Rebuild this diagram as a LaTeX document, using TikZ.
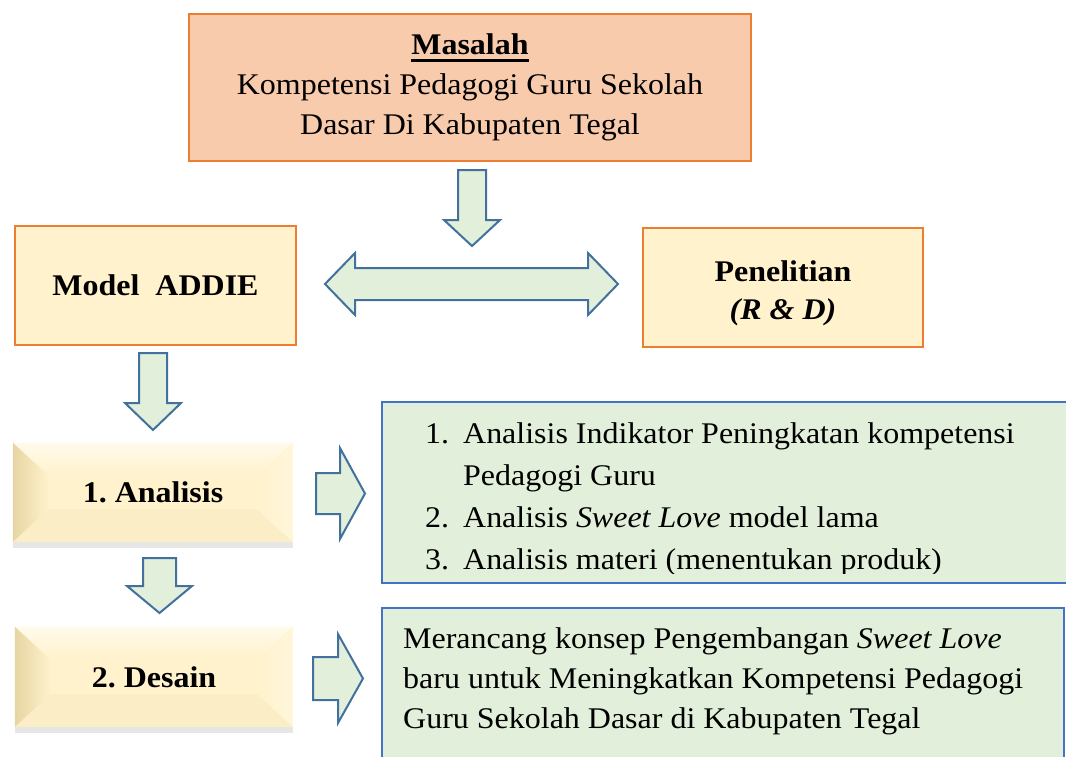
\documentclass[tikz,border=0pt]{standalone}
\usepackage{fontspec}
\setmainfont[FakeStretch=1.066]{Liberation Serif}
\usetikzlibrary{shadows}

\definecolor{peach}{HTML}{F8CBAD}
\definecolor{orangeline}{HTML}{ED7D31}
\definecolor{cream}{HTML}{FFF2CC}
\definecolor{tanleft}{HTML}{E6D5A3}
\definecolor{mint}{HTML}{E2EFDA}
\definecolor{blueline}{HTML}{4472C4}
\definecolor{arrowline}{HTML}{41719C}

\newcommand{\thickul}[1]{\setbox0\hbox{#1}\leavevmode\rlap{\rule[-7pt]{\wd0}{3pt}}\box0}

\tikzset{
	orangebox/.style={draw=orangeline, line width=2.5pt, inner sep=0pt},
	greenbox/.style={draw=blueline, line width=2pt, fill=mint, inner sep=0pt},
	bevelbox/.style={fill=cream, inner sep=0pt, drop shadow={shadow xshift=0pt, shadow yshift=-6pt, opacity=0.2}},
	blockarrow/.style={draw=arrowline, line width=2pt, fill=mint, line join=miter},
	bigtext/.style={font=\fontsize{30}{40}\selectfont},
	boldtext/.style={font=\fontsize{30}{38}\selectfont\bfseries},
}

\begin{document}
\begin{tikzpicture}[x=1pt,y=-1pt]
	\useasboundingbox (0,0) rectangle (1066,756);
	\clip (0,0) rectangle (1066,756);

	% top row
	\node[orangebox, fill=peach, minimum width=562pt, minimum height=147pt, align=center, bigtext] (masalah) at (470,87.5)
		{\textbf{\thickul{Masalah}}\\Kompetensi Pedagogi Guru Sekolah\\Dasar Di Kabupaten Tegal};
	\node[orangebox, fill=cream, minimum width=281pt, minimum height=119pt, boldtext] (addie) at (155.5,285.5)
		{Model\ \ ADDIE};
	\node[orangebox, fill=cream, minimum width=280pt, minimum height=119pt] (penelitian) at (783,287.5) {};
	\node[boldtext, align=center, inner sep=0pt] (penelitiantext) at ([yshift=-6pt]penelitian.center)
		{Penelitian\\\textit{(R \& D)}};

	% ADDIE steps
	\node[bevelbox, minimum width=280pt, minimum height=99pt] (analisis) at (153,492.5) {};
	\node[bevelbox, minimum width=278pt, minimum height=100pt] (desain) at (154,677) {};
	\foreach \b in {analisis,desain}{
		\coordinate (\b-a) at ([shift={(36,33)}]\b.north west);
		\coordinate (\b-b) at ([shift={(-36,33)}]\b.north east);
		\coordinate (\b-c) at ([shift={(-36,-33)}]\b.south east);
		\coordinate (\b-d) at ([shift={(36,-33)}]\b.south west);
		\shade[top color=cream!40!white, bottom color=cream] (\b.north west) -- (\b.north east) -- (\b-b) -- (\b-a) -- cycle;
		\shade[left color=tanleft, right color=cream] (\b.north west) -- (\b-a) -- (\b-d) -- (\b.south west) -- cycle;
		\fill[cream!85!tanleft] (\b.south west) -- (\b-d) -- (\b-c) -- (\b.south east) -- cycle;
		\shade[left color=cream, right color=cream!70!white] (\b.north east) -- (\b-b) -- (\b-c) -- (\b.south east) -- cycle;
	}
	\node[boldtext] (analisislabel) at (analisis.center) {1.\ Analisis};
	\node[boldtext] (desainlabel) at (desain.center) {2.\ Desain};

	% detail boxes
	\node[greenbox, minimum width=694pt, minimum height=181pt] (analisisbox) at (729,492.5) {};
	\node[greenbox, minimum width=682pt, minimum height=162pt] (desainbox) at (723,689) {};
	\begin{scope}
		\clip (analisisbox.north west) rectangle (1066,573);
		\node[anchor=base west, inner sep=0pt] (analisislist) at (425,443) {\fontsize{30}{42.3}\selectfont
			\begin{tabular}[t]{@{}l@{\hspace{14pt}}l@{}}
				1. & Analisis Indikator Peningkatan kompetensi\\
				   & Pedagogi Guru\\
				2. & Analisis \textit{Sweet Love} model lama\\
				3. & Analisis materi (menentukan produk)
			\end{tabular}};
	\end{scope}
	\node[anchor=base west, inner sep=0pt] (desaintext) at (403,648) {\fontsize{30}{40}\selectfont
		\begin{tabular}[t]{@{}l@{}}
			Merancang konsep Pengembangan \textit{Sweet Love}\\
			baru untuk Meningkatkan Kompetensi Pedagogi\\
			Guru Sekolah Dasar di Kabupaten Tegal
		\end{tabular}};

	% block arrows
	\draw[blockarrow] (458,170) -- (486,170) -- (486,220) -- (500,220) -- (472,246) -- (444,220) -- (458,220) -- cycle;
	\draw[blockarrow] (325,284) -- (355,253) -- (355,268) -- (588,268) -- (588,253) -- (618,284)
		-- (588,315) -- (588,300) -- (355,300) -- (355,315) -- cycle;
	\draw[blockarrow] (139,353) -- (167,353) -- (167,403) -- (181,403) -- (153,430) -- (125,403) -- (139,403) -- cycle;
	\draw[blockarrow] (143,558) -- (176,558) -- (176,586) -- (192,586) -- (159.5,613) -- (127,586) -- (143,586) -- cycle;
	\draw[blockarrow] (316,473) -- (340,473) -- (340,448) -- (365,493.5) -- (340,539) -- (340,514) -- (316,514) -- cycle;
	\draw[blockarrow] (313,657) -- (338,657) -- (338,634) -- (363,678.5) -- (338,723) -- (338,700) -- (313,700) -- cycle;
\end{tikzpicture}
\end{document}
